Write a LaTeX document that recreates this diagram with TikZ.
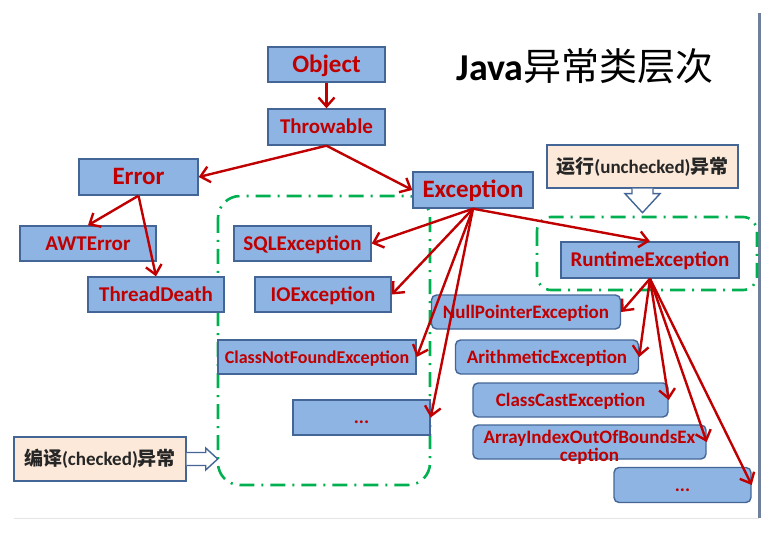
\documentclass[tikz,border=0pt]{standalone}
\usepackage{fontspec}
\setmainfont{Carlito}
\newfontfamily\cjk{Noto Sans CJK SC}
\usetikzlibrary{arrows.meta,calc}

\definecolor{boxfill}{RGB}{142,180,227}
\definecolor{boxline}{RGB}{68,102,150}
\definecolor{excred}{RGB}{192,0,0}
\definecolor{grpgreen}{RGB}{0,176,80}
\definecolor{notefill}{RGB}{252,233,217}
\definecolor{frameline}{RGB}{112,128,155}

\begin{document}
\begin{tikzpicture}[x=1pt,y=-1pt,
  cls/.style={draw=boxline,fill=boxfill,line width=1.4pt,text=excred,inner sep=0pt,
    text height=13.5pt,text depth=0pt,font=\bfseries\fontsize{21}{23}\selectfont},
  bigcls/.style={cls,text height=16pt,font=\bfseries\fontsize{25}{27}\selectfont},
  rcls/.style={cls,rounded corners=5pt,text height=12.5pt,font=\bfseries\fontsize{19}{19}\selectfont},
  note/.style={draw=boxline,fill=notefill,line width=1.4pt,inner sep=0pt,text=black!85,
    font=\bfseries\fontsize{19}{21}\selectfont},
  inh/.style={draw=excred,line width=2.4pt,-{Straight Barb[length=9pt,width=16pt]}},
  grp/.style={draw=grpgreen,line width=2.6pt,dash pattern=on 15pt off 7pt on 2pt off 7pt},
  blk/.style={draw=boxline,fill=white,line width=1.4pt,line join=miter}]
  \useasboundingbox (0,0) rectangle (782,540);
  % slide frame
  \draw[frameline,line width=3pt] (759,13) -- (759,518);
  \draw[black!10,line width=1pt] (14,518) -- (759,518);
  % title
  \node (title) at (585,66) {\fontsize{38}{42}\selectfont\textbf{Java}\cjk 异常类层次};
  % checked / unchecked groups
  \draw[grp,rounded corners=22pt] (218,196) rectangle (430,485);
  \draw[grp,rounded corners=14pt] (537,217) rectangle (757,290);
  % classes
  \node[bigcls,minimum width=117pt,minimum height=35pt] (obj) at (326.5,64.5) {Object};
  \node[cls,minimum width=117pt,minimum height=36pt] (thr) at (326.5,127) {Throwable};
  \node[bigcls,minimum width=119pt,minimum height=36pt] (err) at (138.5,177) {Error};
  \node[cls,minimum width=136pt,minimum height=35pt] (awt) at (88,243.5) {AWTError};
  \node[cls,minimum width=136pt,minimum height=35pt] (thd) at (156,294.5) {ThreadDeath};
  \node[bigcls,minimum width=120pt,minimum height=36pt] (exc) at (473,190) {Exception};
  \node[cls,minimum width=137pt,minimum height=35pt] (sql) at (302.5,243.5) {SQLException};
  \node[cls,minimum width=136pt,minimum height=35pt] (ioe) at (323,294.5) {IOException};
  \node[cls,text height=12pt,font=\bfseries\fontsize{18}{18}\selectfont,minimum width=198pt,minimum height=34pt] (cnf) at (317,357) {ClassNotFoundException};
  \node[cls,text height=12.5pt,font=\bfseries\fontsize{19}{19}\selectfont,minimum width=137pt,minimum height=35pt] (dta) at (361.5,417.5) {...};
  \node[cls,minimum width=178pt,minimum height=36pt] (rte) at (650,260) {RuntimeException};
  \node[rcls,minimum width=189pt,minimum height=34pt] (npe) at (526,312) {NullPointerException};
  \node[rcls,minimum width=183pt,minimum height=34pt] (ari) at (547,357) {ArithmeticException};
  \node[rcls,minimum width=195pt,minimum height=34pt] (cce) at (570.5,400) {ClassCastException};
  \node[rcls,minimum width=233pt,minimum height=34pt,
    label={[text=excred,font=\bfseries\fontsize{19}{18}\selectfont,align=center,yshift=-5pt]center:ArrayIndexOutOfBoundsEx\\ception}] (aio) at (589.5,442) {};
  \node[rcls,minimum width=137pt,minimum height=35pt] (dtb) at (682.5,485) {...};
  % notes
  \node[note,minimum width=191pt,minimum height=43pt] (unc) at (642.5,166.5) {{\cjk 运行}(unchecked){\cjk 异常}};
  \node[note,minimum width=172pt,minimum height=44pt] (chk) at (100,459) {{\cjk 编译}(checked){\cjk 异常}};
  \draw[blk] ($(unc.south)+(-10.5,0)$) -- ++(0,5) -- ++(-7,0) -- ++(17.5,19) -- ++(17.5,-19) -- ++(-7,0) -- ++(0,-5);
  \draw[blk] ($(chk.east)+(0,-6.5)$) -- ++(19,0) -- ++(0,-4.5) -- ++(12,11) -- ++(-12,11) -- ++(0,-4.5) -- ++(-19,0);
  % inheritance
  \draw[inh] (obj.south) -- (thr.north);
  \draw[inh] (thr.south) -- (err.east);
  \draw[inh] (thr.south) -- (exc.west);
  \draw[inh] (err.south) -- (awt.north);
  \draw[inh] (err.south) -- (thd.north);
  \foreach \c in {sql,ioe,cnf,dta} \draw[inh] (exc.south) -- (\c.east);
  \draw[inh] (exc.south) -- (rte.north);
  \foreach \c in {npe,ari,cce,aio,dtb} \draw[inh] (rte.south) -- (\c.east);
\end{tikzpicture}
\end{document}
